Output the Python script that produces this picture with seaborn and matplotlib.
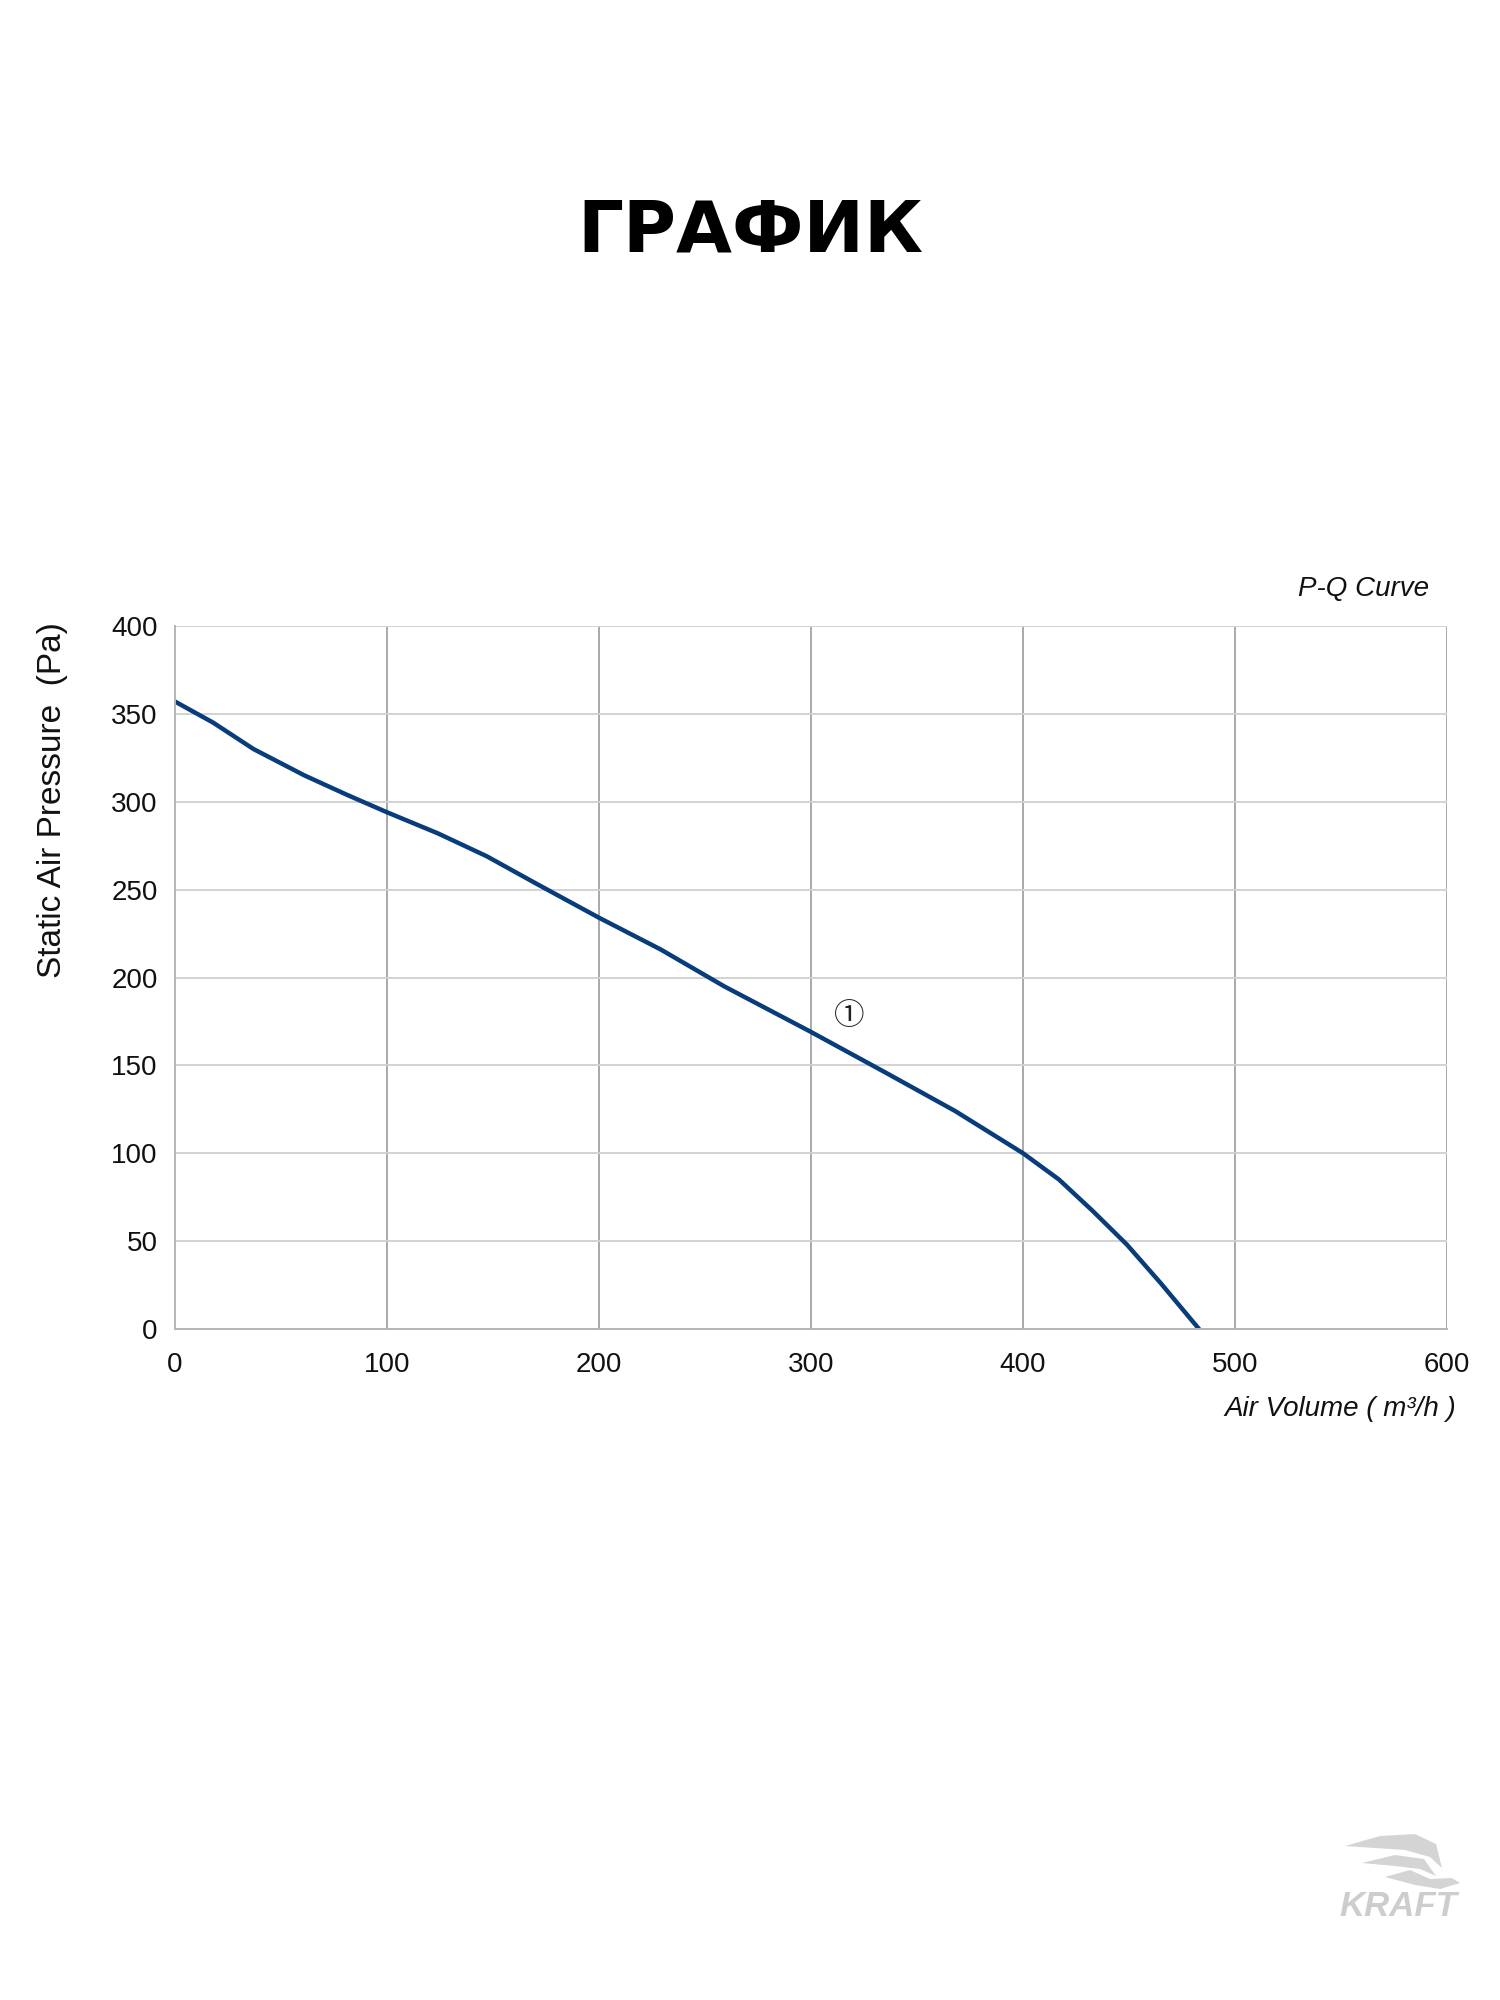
import numpy as np
import pandas as pd
import matplotlib
matplotlib.use("Agg")
import matplotlib.pyplot as plt
from matplotlib.ticker import MultipleLocator
from matplotlib.patches import Polygon
import seaborn as sns

# P-Q curve (m3/h, Pa)
air_volume = [0, 18, 37, 61, 81, 100, 124, 147, 171, 200, 229, 259, 300,
              335, 368, 400, 417, 433, 449, 465, 483]
pressure = [357, 345, 330, 315, 304, 294, 282, 269, 253, 234, 216, 195, 169,
            146, 124, 100, 85, 67, 48, 26, 0]
x_ticks = [0, 100, 200, 300, 400, 500, 600]
y_ticks = [0, 50, 100, 150, 200, 250, 300, 350, 400]

curve = pd.DataFrame({"Q": air_volume, "P": pressure})

sns.set_theme(style="white")
plt.rcParams["font.family"] = ["Liberation Sans", "DejaVu Sans"]

fig = plt.figure(figsize=(15, 20), dpi=100)
ax = fig.add_axes([0.1167, 0.3355, 0.848, 0.3515])

sns.lineplot(data=curve, x="Q", y="P", ax=ax, color="#083c7a", linewidth=3.2, sort=False)

ax.set_xlim(0, 600)
ax.set_ylim(0, 400)
ax.set_xticks(x_ticks)
ax.set_yticks(y_ticks)
ax.xaxis.set_minor_locator(MultipleLocator(20))
ax.yaxis.set_minor_locator(MultipleLocator(10))

ax.grid(False)
for v in x_ticks[1:]:
    ax.axvline(v, color="#a9a9a9", linewidth=1.4, zorder=0)
for v in y_ticks[1:]:
    ax.axhline(v, color="#d2d2d2", linewidth=1.4, zorder=0)

for side in ["top", "right"]:
    ax.spines[side].set_visible(False)
for side in ["left", "bottom"]:
    ax.spines[side].set_color("#b5b5b5")
    ax.spines[side].set_linewidth(1.4)

ax.tick_params(axis="both", which="major", direction="out", length=6.5, width=1.2,
               color="#b5b5b5", labelsize=20, labelcolor="#111111")
ax.tick_params(axis="both", which="minor", direction="out", length=4.3, width=1.0,
               color="#b5b5b5")
ax.tick_params(axis="x", which="major", pad=10)
ax.tick_params(axis="y", which="major", pad=6)

ax.set_xlabel("")
ax.set_ylabel("Static Air Pressure  (Pa)", fontsize=24, color="#111111")
ax.yaxis.set_label_coords(-0.084, 0.752)

ax.text(1.007, -0.114, "Air Volume ( m\u00b3/h )", transform=ax.transAxes, ha="right", va="center",
        fontsize=20, style="italic", color="#111111")
ax.text(0.9855, 1.053, "P-Q Curve", transform=ax.transAxes, ha="right", va="center",
        fontsize=20, style="italic", color="#111111")
ax.text(318, 178, "\u2460", ha="center", va="center", fontsize=22,
        family=["Noto Sans CJK JP", "DejaVu Sans"], color="#222222")

fig.text(0.5, 0.8745, "ГРАФИК", ha="center", va="baseline", fontsize=52,
         fontweight="bold", family=["DejaVu Sans"], color="black")

# faint KRAFT watermark, bottom right
fig.text(0.9713, 0.0465, "KRAFT", ha="right", va="center", fontsize=25,
         fontweight="bold", style="italic", color="#cdcdcd")
H = 2000
wings = [
    [(1345, 1846), (1380, 1836), (1415, 1834), (1436, 1844), (1442, 1868),
     (1430, 1857), (1405, 1850), (1375, 1848)],
    [(1362, 1863), (1395, 1855), (1424, 1859), (1436, 1876), (1420, 1869), (1395, 1866)],
    [(1385, 1877), (1410, 1870), (1430, 1879), (1452, 1878), (1460, 1883),
     (1440, 1889), (1415, 1885)],
]
for w in wings:
    fig.add_artist(Polygon([(x, H - y) for x, y in w], closed=True, transform=None,
                           facecolor="#d4d4d4", edgecolor="none"))

fig.savefig("out.png", dpi=100, facecolor="white")
